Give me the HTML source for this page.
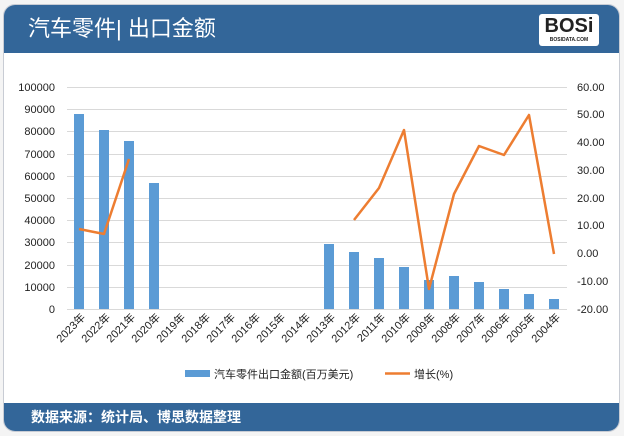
<!DOCTYPE html>
<html><head><meta charset="utf-8"><style>
body{margin:0;width:624px;height:436px;background:#f4f4f4;overflow:hidden;font-family:"Liberation Sans","Noto Sans CJK SC",sans-serif}
.card{position:absolute;left:3px;top:4px;width:617px;height:428px;background:#fff;border-radius:12px;overflow:hidden;border:1px solid #c8ccd4;box-sizing:border-box}
.hd{position:absolute;left:0;top:0;width:100%;height:48px;background:#336699;color:#fff;font-size:22px;line-height:48px;padding-left:24px;box-sizing:border-box}
.ft{position:absolute;left:0;bottom:0;width:100%;height:28px;background:#336699;color:#fff;font-size:14px;line-height:28px;padding-left:27px;box-sizing:border-box;font-weight:bold}
.logo{position:absolute;right:20px;top:9px;width:60px;height:32px;background:#fff;border-radius:3px;color:#222;font-weight:bold;font-size:20px;text-align:center;line-height:24px}
.logo small{display:block;font-size:5px;line-height:4px}
</style></head><body>
<div class="card">
<div class="hd">汽车零件| 出口金额</div>
<div class="logo">BOSi<small>BOSIDATA.COM</small></div>
<div class="ft">数据来源：统计局、博思数据整理</div>
</div>
<svg width="624" height="436" style="position:absolute;left:0;top:0" font-family="Liberation Sans, Noto Sans CJK SC, sans-serif">
<g stroke="#d9d9d9" stroke-width="1">
<line x1="67" x2="567" y1="87.5" y2="87.5"/><line x1="67" x2="567" y1="109.5" y2="109.5"/><line x1="67" x2="567" y1="131.5" y2="131.5"/><line x1="67" x2="567" y1="154.5" y2="154.5"/><line x1="67" x2="567" y1="176.5" y2="176.5"/><line x1="67" x2="567" y1="198.5" y2="198.5"/><line x1="67" x2="567" y1="220.5" y2="220.5"/><line x1="67" x2="567" y1="242.5" y2="242.5"/><line x1="67" x2="567" y1="265.5" y2="265.5"/><line x1="67" x2="567" y1="287.5" y2="287.5"/><line x1="67" x2="567" y1="309.5" y2="309.5"/>
</g>
<g fill="#5b9bd5">
<rect x="74" y="114" width="10" height="195"/><rect x="99" y="130" width="10" height="179"/><rect x="124" y="141" width="10" height="168"/><rect x="149" y="183" width="10" height="126"/>
<rect x="324" y="244" width="10" height="65"/><rect x="349" y="252" width="10" height="57"/><rect x="374" y="258" width="10" height="51"/><rect x="399" y="267" width="10" height="42"/><rect x="424" y="280" width="10" height="29"/><rect x="449" y="276" width="10" height="33"/><rect x="474" y="282" width="10" height="27"/><rect x="499" y="289" width="10" height="20"/><rect x="524" y="294" width="10" height="15"/><rect x="549" y="299" width="10" height="10"/>
</g>
<g fill="none" stroke="#ed7d31" stroke-width="2.5" stroke-linejoin="round">
<polyline points="79,229 104,234 129,159"/>
<polyline points="354,220 379,188 404,130 429,289 454,194 479,146 504,155 529,115 554,254"/>
</g>
<g font-size="11" fill="#222" text-anchor="end">
<text x="55" y="91">100000</text><text x="55" y="113">90000</text><text x="55" y="135">80000</text><text x="55" y="158">70000</text><text x="55" y="180">60000</text><text x="55" y="202">50000</text><text x="55" y="224">40000</text><text x="55" y="246">30000</text><text x="55" y="269">20000</text><text x="55" y="291">10000</text><text x="55" y="313">0</text>
</g>
<g font-size="11" fill="#222">
<text x="577" y="91">60.00</text><text x="577" y="118">50.00</text><text x="577" y="146">40.00</text><text x="577" y="174">30.00</text><text x="577" y="202">20.00</text><text x="577" y="229">10.00</text><text x="577" y="257">0.00</text><text x="577" y="285">-10.00</text><text x="577" y="313">-20.00</text>
</g>
<g font-size="11" fill="#222" text-anchor="end">
<text transform="translate(86,318) rotate(-45)">2023年</text><text transform="translate(111,318) rotate(-45)">2022年</text><text transform="translate(136,318) rotate(-45)">2021年</text><text transform="translate(161,318) rotate(-45)">2020年</text><text transform="translate(186,318) rotate(-45)">2019年</text><text transform="translate(211,318) rotate(-45)">2018年</text><text transform="translate(236,318) rotate(-45)">2017年</text><text transform="translate(261,318) rotate(-45)">2016年</text><text transform="translate(286,318) rotate(-45)">2015年</text><text transform="translate(311,318) rotate(-45)">2014年</text><text transform="translate(336,318) rotate(-45)">2013年</text><text transform="translate(361,318) rotate(-45)">2012年</text><text transform="translate(386,318) rotate(-45)">2011年</text><text transform="translate(411,318) rotate(-45)">2010年</text><text transform="translate(436,318) rotate(-45)">2009年</text><text transform="translate(461,318) rotate(-45)">2008年</text><text transform="translate(486,318) rotate(-45)">2007年</text><text transform="translate(511,318) rotate(-45)">2006年</text><text transform="translate(536,318) rotate(-45)">2005年</text><text transform="translate(561,318) rotate(-45)">2004年</text>
</g>
<rect x="185" y="370" width="25" height="7" fill="#5b9bd5"/>
<text x="214" y="378" font-size="11" fill="#222">汽车零件出口金额(百万美元)</text>
<line x1="385" x2="410" y1="373.5" y2="373.5" stroke="#ed7d31" stroke-width="2.5"/>
<text x="414" y="378" font-size="11" fill="#222">增长(%)</text>
</svg>
</body></html>
